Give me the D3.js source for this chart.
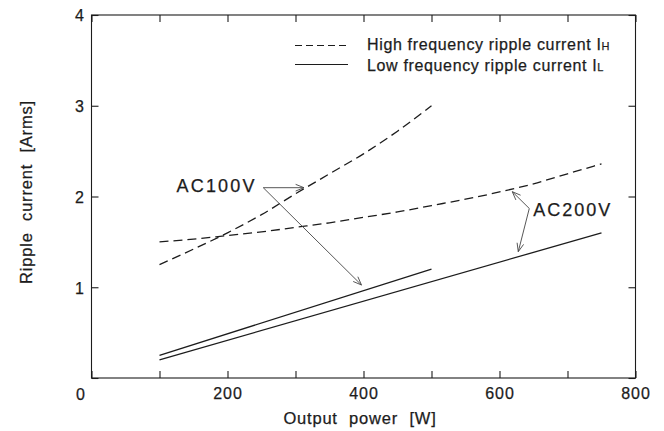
<!DOCTYPE html>
<html>
<head>
<meta charset="utf-8">
<script src="https://cdn.jsdelivr.net/npm/d3@7"></script>
<style>
  html, body { margin: 0; padding: 0; background: #fff; }
  svg { display: block; font-family: "Liberation Sans", Arial, Helvetica, sans-serif; }
  svg text { stroke: #1c1c1c; stroke-width: 0.25px; }
</style>
</head>
<body>
<svg id="chart" width="664" height="431"></svg>
<script>
// ---- data ----
const powerAC100H = [100, 150, 200, 250, 300, 350, 400, 450, 500];
const rippleAC100H = [1.25, 1.42, 1.60, 1.80, 2.03, 2.25, 2.47, 2.72, 3.00];
const powerAC200H = [100, 150, 200, 250, 300, 350, 400, 450, 500, 550, 600, 650, 700, 750];
const rippleAC200H = [1.50, 1.53, 1.57, 1.61, 1.66, 1.71, 1.77, 1.83, 1.90, 1.97, 2.05, 2.14, 2.25, 2.36];
const powerAC100L = [100, 500];
const rippleAC100L = [0.25, 1.20];
const powerAC200L = [100, 750];
const rippleAC200L = [0.20, 1.60];
const xTicks = [0, 100, 200, 300, 400, 500, 600, 700, 800];
const xTickLabels = ["", "", "200", "", "400", "", "600", "", "800"];
const yTicks = [0, 1, 2, 3, 4];
const yTickLabels = ["", "1", "2", "3", "4"];
const cornerLabel = "0";
const xTitle = "Output power [W]";
const yTitle = "Ripple current [Arms]";
const legendHigh = "High frequency ripple current I";
const legendHighSub = "H";
const legendLow = "Low frequency ripple current I";
const legendLowSub = "L";
const labelAC100 = "AC100V";
const labelAC200 = "AC200V";

// ---- layout ----
const svg = d3.select("#chart");
const mLeft = 91.5, mRight = 635.5, mTop = 15, mBottom = 378;
const x = d3.scaleLinear().domain([0, 800]).range([mLeft, mRight]);
const y = d3.scaleLinear().domain([0, 4]).range([mBottom, mTop]);
const ink = "#1c1c1c";
const tickLen = 7;

// frame
svg.append("rect").attr("x", mLeft).attr("y", mTop)
  .attr("width", mRight - mLeft).attr("height", mBottom - mTop)
  .attr("fill", "none").attr("stroke", ink).attr("stroke-width", 1.1);

// axes (ticks inward)
const xAxisB = d3.axisBottom(x).tickValues(xTicks).tickSize(-tickLen).tickPadding(tickLen + 8)
  .tickFormat((d, i) => xTickLabels[i]);
const gxb = svg.append("g").attr("transform", `translate(0,${mBottom})`).call(xAxisB);
const xAxisT = d3.axisTop(x).tickValues(xTicks).tickSize(-tickLen).tickFormat("");
const gxt = svg.append("g").attr("transform", `translate(0,${mTop})`).call(xAxisT);
const yAxisL = d3.axisLeft(y).tickValues(yTicks).tickSize(-tickLen).tickPadding(tickLen + 7)
  .tickFormat((d, i) => yTickLabels[i]);
const gyl = svg.append("g").attr("transform", `translate(${mLeft},0)`).call(yAxisL);
const yAxisR = d3.axisRight(y).tickValues(yTicks).tickSize(-tickLen).tickFormat("");
const gyr = svg.append("g").attr("transform", `translate(${mRight},0)`).call(yAxisR);

[gxb, gxt, gyl, gyr].forEach(g => {
  g.select(".domain").remove();
  g.selectAll(".tick line").attr("stroke", ink).attr("stroke-width", 1.1);
  g.selectAll("text").attr("fill", ink).style("font-size", "16px").style("letter-spacing", "1px")
    .style("font-family", "'Liberation Sans', Arial, sans-serif");
});
gxb.selectAll("text").attr("dy", "0.71em").attr("y", 388 - mBottom);
gyl.selectAll("text").attr("x", 85 - mLeft).attr("dy", "0.36em");

// corner "0"
svg.append("text").attr("x", 85).attr("y", 399.5).attr("text-anchor", "end")
  .attr("fill", ink).style("font-size", "16px").text(cornerLabel);

// axis titles
svg.append("text").attr("x", 360).attr("y", 424).attr("text-anchor", "middle")
  .attr("fill", ink).style("font-size", "16.5px").style("letter-spacing", "0.8px")
  .style("word-spacing", "6px").text(xTitle);
svg.append("text").attr("transform", "translate(32,192) rotate(-90)").attr("text-anchor", "middle")
  .attr("fill", ink).style("font-size", "16.5px").style("letter-spacing", "0.8px")
  .style("word-spacing", "6px").text(yTitle);

// curves
const line = d3.line().x(d => x(d[0])).y(d => y(d[1])).curve(d3.curveMonotoneX);
const series = [
  { p: powerAC100H, v: rippleAC100H, dash: "9,5" },
  { p: powerAC200H, v: rippleAC200H, dash: "9,5" },
  { p: powerAC100L, v: rippleAC100L, dash: null },
  { p: powerAC200L, v: rippleAC200L, dash: null }
];
series.forEach(s => {
  svg.append("path").datum(s.p.map((pw, i) => [pw, s.v[i]]))
    .attr("d", line).attr("fill", "none").attr("stroke", ink)
    .attr("stroke-width", 1.3).attr("stroke-dasharray", s.dash);
});

// legend
const lg = svg.append("g");
lg.append("line").attr("x1", 295).attr("x2", 348).attr("y1", 45.5).attr("y2", 45.5)
  .attr("stroke", ink).attr("stroke-width", 1.1).attr("stroke-dasharray", "7,4");
lg.append("line").attr("x1", 295).attr("x2", 348).attr("y1", 64.5).attr("y2", 64.5)
  .attr("stroke", ink).attr("stroke-width", 1.1);
const t1 = lg.append("text").attr("x", 367).attr("y", 50).attr("fill", ink)
  .style("font-size", "16px").style("letter-spacing", "0.65px");
t1.append("tspan").text(legendHigh);
t1.append("tspan").style("font-size", "11px").text(legendHighSub);
const t2 = lg.append("text").attr("x", 367).attr("y", 71).attr("fill", ink)
  .style("font-size", "16px").style("letter-spacing", "0.65px");
t2.append("tspan").text(legendLow);
t2.append("tspan").style("font-size", "11px").text(legendLowSub);

// annotations (positions in data units)
const arrowInk = "#444";
function arrow(x0, y0, x1, y1) {
  const X0 = x(x0), Y0 = y(y0), X1 = x(x1), Y1 = y(y1);
  svg.append("line").attr("x1", X0).attr("y1", Y0).attr("x2", X1).attr("y2", Y1)
    .attr("stroke", arrowInk).attr("stroke-width", 0.9);
  const ang = Math.atan2(Y1 - Y0, X1 - X0);
  const L = 9, a = 0.38;
  const pts = [[X1 - L * Math.cos(ang - a), Y1 - L * Math.sin(ang - a)], [X1, Y1],
               [X1 - L * Math.cos(ang + a), Y1 - L * Math.sin(ang + a)]];
  svg.append("path").attr("d", d3.line()(pts)).attr("fill", "none")
    .attr("stroke", arrowInk).attr("stroke-width", 0.9);
}
svg.append("text").attr("x", x(125)).attr("y", y(2.05)).attr("fill", ink)
  .style("font-size", "18px").style("letter-spacing", "2.2px").text(labelAC100);
arrow(252.6, 2.097, 312.5, 2.097);
arrow(252.6, 2.097, 397, 1.025);
svg.append("text").attr("x", x(649.7)).attr("y", y(1.79)).attr("fill", ink)
  .style("font-size", "18px").style("letter-spacing", "2px").text(labelAC200);
arrow(643.8, 1.868, 618.8, 2.053);
arrow(643.8, 1.868, 627.6, 1.392);
</script>
</body>
</html>
